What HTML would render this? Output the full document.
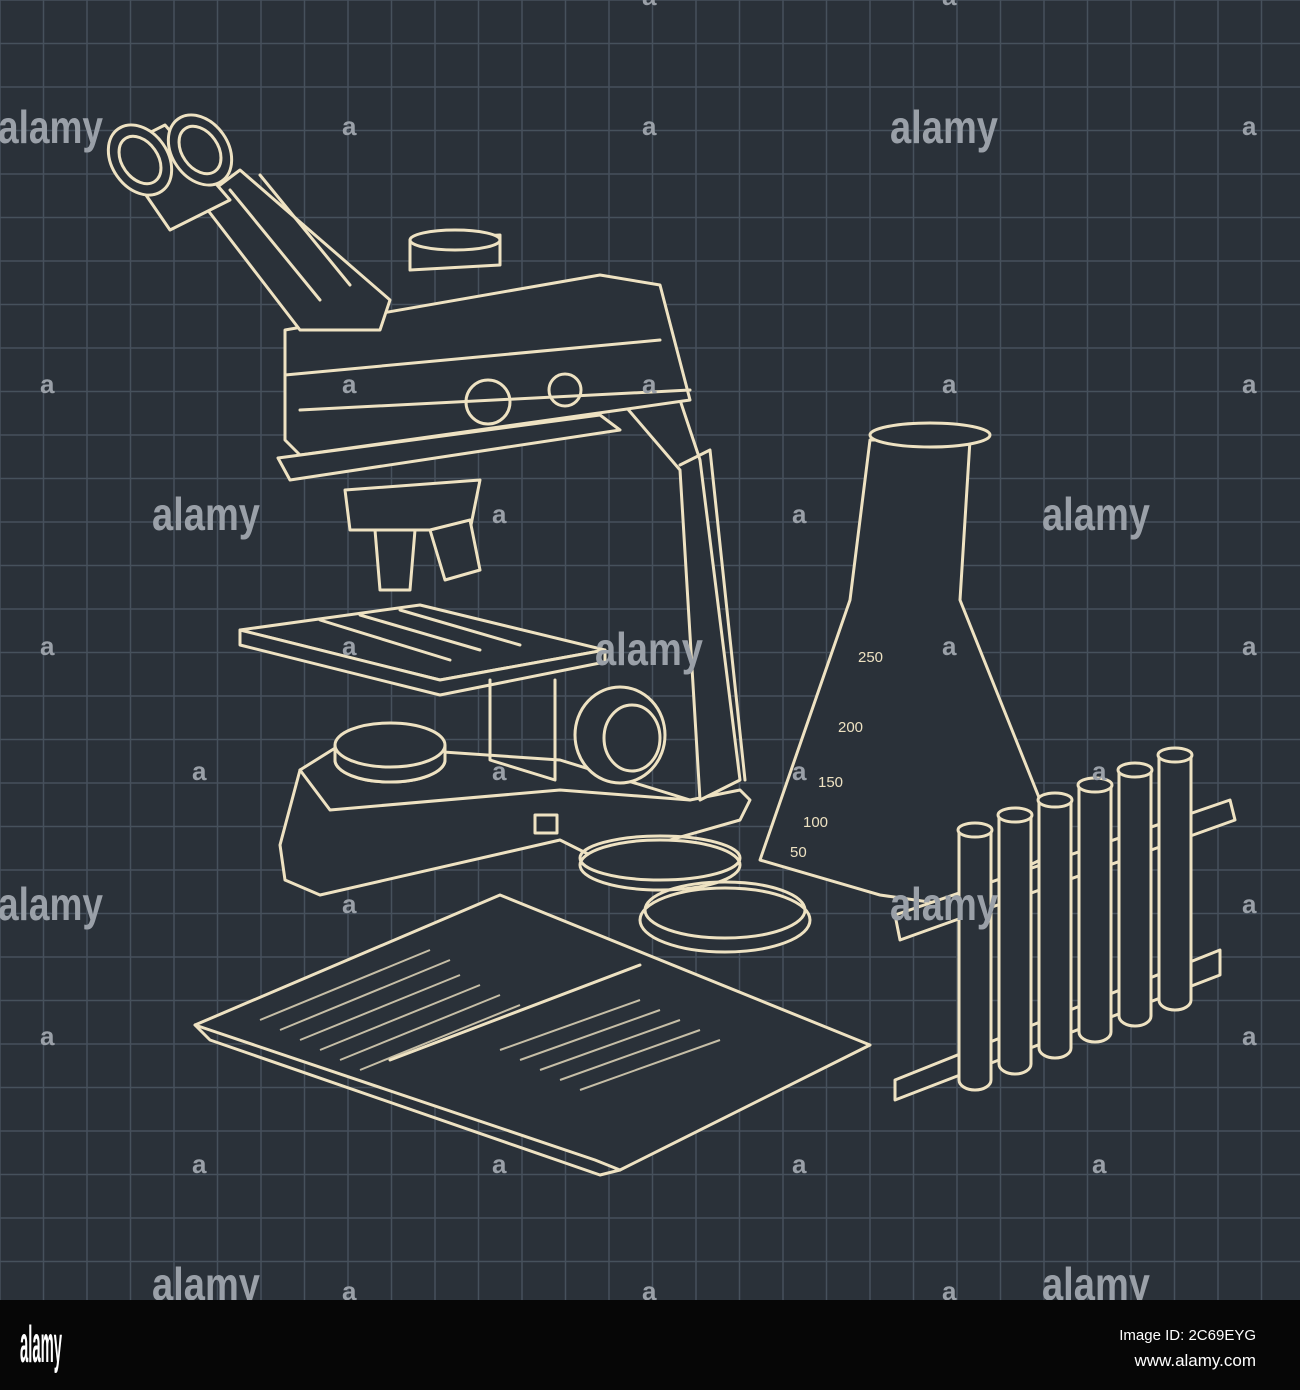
<!DOCTYPE html>
<html><head><meta charset="utf-8"><style>
html,body{margin:0;padding:0;background:#000;}
#wrap{position:relative;width:1300px;height:1390px;overflow:hidden;}
svg{display:block}
.wm{font-family:"Liberation Sans",sans-serif;font-weight:bold;fill:#9aa0a8;font-size:46px;}
.wms{font-family:"Liberation Sans",sans-serif;font-weight:bold;fill:#9aa0a8;font-size:26px;}
.ln{fill:none;stroke:#eee2c2;stroke-width:3;stroke-linejoin:round;stroke-linecap:round}
.fl{fill:#2a3139;stroke:#eee2c2;stroke-width:3;stroke-linejoin:round}
</style></head><body>
<div id="wrap">
<svg width="1300" height="1390" viewBox="0 0 1300 1390">
<rect x="0" y="0" width="1300" height="1300" fill="#2a3139"/>
<g id="grid" stroke="#46515c" stroke-width="1.5"></g>

<g>
 <path class="fl" d="M280 845 L300 770 L340 745 L560 760 L690 800 L740 790 L750 800 L740 820 L600 860 L560 840 L320 895 L285 880 Z"/>
 <path class="ln" d="M300 770 L330 810 L560 790 L690 800"/>
 <path class="fl" d="M600 300 L650 310 L700 460 L740 780 L700 800 L680 470 L620 400 Z"/>
 <path class="ln" d="M680 465 L710 450 L745 780"/>
 <path class="fl" d="M285 330 L600 275 L660 285 L690 400 L620 410 L300 455 L285 440 Z"/>
 <path class="ln" d="M285 375 L660 340 M300 410 L690 390"/>
 <circle class="ln" cx="488" cy="402" r="22"/><circle class="ln" cx="565" cy="390" r="16"/>
 <path class="fl" d="M278 458 L600 415 L620 430 L290 480 Z"/>
 <path class="fl" d="M410 240 L500 235 L500 265 L410 270 Z"/><ellipse class="fl" cx="455" cy="240" rx="45" ry="10"/>
 <path class="fl" d="M300 330 L200 200 L240 170 L390 300 L380 330 Z"/>
 <path class="fl" d="M170 230 L115 150 L165 125 L230 200 Z"/>
 <ellipse class="fl" cx="140" cy="160" rx="28" ry="38" transform="rotate(-35 140 160)"/>
 <ellipse class="ln" cx="140" cy="160" rx="18" ry="26" transform="rotate(-35 140 160)"/>
 <ellipse class="fl" cx="200" cy="150" rx="28" ry="38" transform="rotate(-35 200 150)"/>
 <ellipse class="ln" cx="200" cy="150" rx="18" ry="26" transform="rotate(-35 200 150)"/>
 <path class="ln" d="M230 190 L320 300 M260 175 L350 285"/>
 <path class="fl" d="M345 490 L480 480 L470 530 L350 530 Z"/>
 <path class="fl" d="M375 530 L415 530 L410 590 L380 590 Z"/>
 <path class="fl" d="M430 530 L470 520 L480 570 L445 580 Z"/>
 <path class="fl" d="M240 630 L420 605 L605 650 L440 680 Z"/>
 <path class="fl" d="M240 630 L240 645 L440 695 L605 662 L605 650 L440 680 Z"/>
 <path class="ln" d="M320 620 L450 660 M360 615 L480 650 M400 610 L520 645"/>
 <ellipse class="fl" cx="390" cy="760" rx="55" ry="22"/><path class="fl" d="M335 745 L335 760 A55 22 0 0 0 445 760 L445 745"/>
 <ellipse class="fl" cx="390" cy="745" rx="55" ry="22"/>
 <path class="ln" d="M490 680 L490 760 L555 780 L555 680"/>
 <ellipse class="fl" cx="620" cy="735" rx="45" ry="48"/><ellipse class="ln" cx="632" cy="738" rx="28" ry="33"/>
 <rect class="ln" x="535" y="815" width="22" height="18"/>
</g>

<g>
 <ellipse class="fl" cx="660" cy="865" rx="80" ry="25"/><ellipse class="ln" cx="660" cy="858" rx="80" ry="22"/>
 <ellipse class="fl" cx="725" cy="920" rx="85" ry="32"/><ellipse class="ln" cx="725" cy="910" rx="80" ry="28"/>
</g>

<g>
 <path class="fl" d="M870 440 L970 440 L960 600 L1060 850 L950 905 L880 895 L760 860 L850 600 Z"/>
 <ellipse class="fl" cx="930" cy="435" rx="60" ry="12"/>
 <g font-family="Liberation Sans,sans-serif" font-size="15" fill="#eee2c2">
  <text x="858" y="662">250</text><text x="838" y="732">200</text><text x="818" y="787">150</text><text x="803" y="827">100</text><text x="790" y="857">50</text>
 </g>
</g>

<g>
 <path class="fl" d="M895 1080 L1220 950 L1220 975 L895 1100 Z"/>
 <path class="fl" d="M895 915 L1230 800 L1235 820 L900 940 Z"/>
 <g id="tubes"></g>
</g>

<g>
 <path class="fl" d="M195 1025 L500 895 L870 1045 L620 1170 L595 1160 Z"/>
 <path class="ln" d="M195 1025 L210 1040 L600 1175 L620 1170"/>
 <path class="ln" d="M390 1060 L640 965"/>
 <g stroke="#eee2c2" stroke-width="2" opacity="0.8">
  <path d="M260 1020 L430 950 M280 1030 L450 960 M300 1040 L460 975 M320 1050 L480 985 M340 1060 L500 995 M360 1070 L520 1005"/>
  <path d="M500 1050 L640 1000 M520 1060 L660 1010 M540 1070 L680 1020 M560 1080 L700 1030 M580 1090 L720 1040"/>
 </g>
</g>

<g>
 <text class="wm" x="-2" y="143" textLength="105" lengthAdjust="spacingAndGlyphs">alamy</text><text class="wm" x="890" y="143" textLength="108" lengthAdjust="spacingAndGlyphs">alamy</text>
 <text class="wm" x="152" y="530" textLength="108" lengthAdjust="spacingAndGlyphs">alamy</text><text class="wm" x="1042" y="530" textLength="108" lengthAdjust="spacingAndGlyphs">alamy</text>
 <text class="wm" x="595" y="665" textLength="108" lengthAdjust="spacingAndGlyphs">alamy</text>
 <text class="wm" x="-2" y="920" textLength="105" lengthAdjust="spacingAndGlyphs">alamy</text><text class="wm" x="890" y="920" textLength="108" lengthAdjust="spacingAndGlyphs">alamy</text>
 <text class="wm" x="152" y="1300" textLength="108" lengthAdjust="spacingAndGlyphs">alamy</text><text class="wm" x="1042" y="1300" textLength="108" lengthAdjust="spacingAndGlyphs">alamy</text>
 <text class="wms" x="342" y="135">a</text><text class="wms" x="642" y="135">a</text><text class="wms" x="1242" y="135">a</text>
 <text class="wms" x="40" y="393">a</text><text class="wms" x="342" y="393">a</text><text class="wms" x="642" y="393">a</text><text class="wms" x="942" y="393">a</text><text class="wms" x="1242" y="393">a</text>
 <text class="wms" x="492" y="523">a</text><text class="wms" x="792" y="523">a</text>
 <text class="wms" x="40" y="655">a</text><text class="wms" x="342" y="655">a</text><text class="wms" x="942" y="655">a</text><text class="wms" x="1242" y="655">a</text>
 <text class="wms" x="192" y="780">a</text><text class="wms" x="492" y="780">a</text><text class="wms" x="792" y="780">a</text><text class="wms" x="1092" y="780">a</text>
 <text class="wms" x="342" y="913">a</text><text class="wms" x="1242" y="913">a</text>
 <text class="wms" x="40" y="1045">a</text><text class="wms" x="1242" y="1045">a</text>
 <text class="wms" x="192" y="1173">a</text><text class="wms" x="492" y="1173">a</text><text class="wms" x="792" y="1173">a</text><text class="wms" x="1092" y="1173">a</text>
 <text class="wms" x="342" y="1300">a</text><text class="wms" x="642" y="1300">a</text><text class="wms" x="942" y="1300">a</text>
 <text class="wms" x="642" y="5">a</text><text class="wms" x="942" y="5">a</text>
</g>

<rect x="0" y="1300" width="1300" height="90" fill="#060606"/>
<text x="20" y="1362" font-family="Liberation Sans,sans-serif" font-weight="bold" font-size="52" fill="#fff" textLength="42" lengthAdjust="spacingAndGlyphs">alamy</text>
<text x="1256" y="1340" text-anchor="end" font-family="Liberation Sans,sans-serif" font-size="15" fill="#fff">Image ID: 2C69EYG</text>
<text x="1256" y="1366" text-anchor="end" font-family="Liberation Sans,sans-serif" font-size="17" fill="#fff">www.alamy.com</text>
</svg>
</div>
<script>
const ns="http://www.w3.org/2000/svg";
const g=document.getElementById('grid');
for(let i=0;i<=30;i++){
 const x=i*43.5;
 const l=document.createElementNS(ns,'line');
 l.setAttribute('x1',x);l.setAttribute('x2',x);l.setAttribute('y1',0);l.setAttribute('y2',1300);
 
 
 g.appendChild(l);
 const h=document.createElementNS(ns,'line');
 h.setAttribute('x1',0);h.setAttribute('x2',1300);h.setAttribute('y1',x);h.setAttribute('y2',x);
 
 
 if(x<=1300)g.appendChild(h);
}
const t=document.getElementById('tubes');
for(let i=0;i<6;i++){
 const cx=975+i*40, top=830-i*15, bot=1080-i*16;
 const p=document.createElementNS(ns,'path');
 p.setAttribute('d',`M${cx-16} ${top} L${cx-16} ${bot} A16 10 0 0 0 ${cx+16} ${bot} L${cx+16} ${top}`);
 p.setAttribute('class','fl');
 
 
 t.appendChild(p);
 const e=document.createElementNS(ns,'ellipse');
 e.setAttribute('cx',cx);e.setAttribute('cy',top);e.setAttribute('rx',17);e.setAttribute('ry',7);
 e.setAttribute('class','fl');
 
 
 t.appendChild(e);
}
</script>
</body></html>
